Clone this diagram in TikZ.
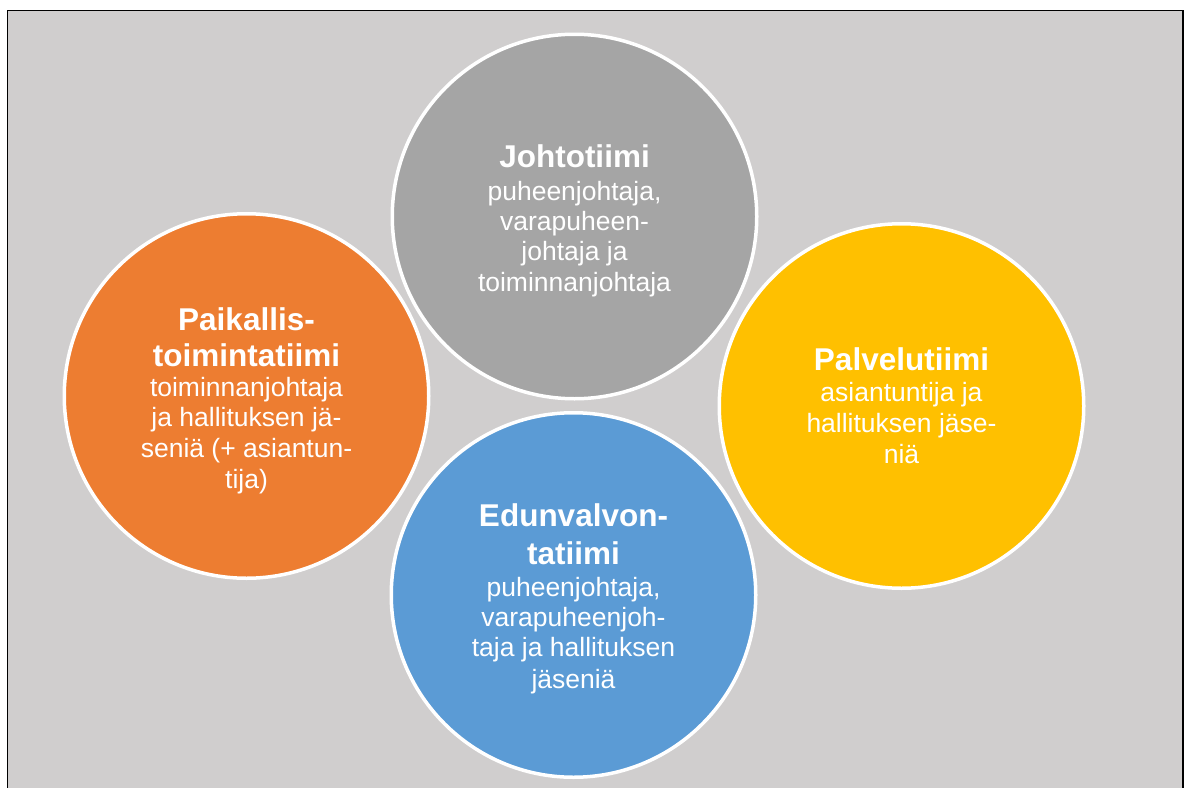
\documentclass[tikz,border=0pt]{standalone}
\usepackage{fontspec}
\setmainfont{Liberation Sans}
\usetikzlibrary{calc}
\definecolor{panel}{HTML}{D0CECE}
\definecolor{teamgray}{HTML}{A5A5A5}
\definecolor{teamorange}{HTML}{ED7D31}
\definecolor{teamyellow}{HTML}{FFC000}
\definecolor{teamblue}{HTML}{5B9BD5}
\begin{document}
\begin{tikzpicture}[x=1pt,y=-1pt,
  team/.style={circle, draw=white, line width=3.5pt, inner sep=0pt, minimum size=364.5pt},
  head/.style={anchor=base, text=white, inner sep=0pt, font=\fontsize{31.5}{36}\selectfont\bfseries},
  body/.style={anchor=base, text=white, inner sep=0pt, font=\fontsize{26.5}{30}\selectfont}]
\useasboundingbox (0,0) rectangle (1191,787);
\clip (0,0) rectangle (1191,787);
% panel
\draw[fill=panel, draw=black, line width=1.5pt] (7.5,10.5) rectangle (1183,800);

% team circles
\node[team, fill=teamgray]   (johto) at (574.5,216.5) {};
\node[team, fill=teamorange] (paik)  at (246.5,396)   {};
\node[team, fill=teamyellow] (palv)  at (901.5,406)   {};
\node[team, fill=teamblue]   (edun)  at (573.5,595)   {};

% Johtotiimi
\node[head] (johto-h1) at ($(johto)+(0,-49.5)$) {Johtotiimi};
\node[body] (johto-b1) at ($(johto)+(0,-16.5)$) {puheenjohtaja,};
\node[body] (johto-b2) at ($(johto)+(0,13.5)$)  {varapuheen-};
\node[body] (johto-b3) at ($(johto)+(0,43.5)$)  {johtaja ja};
\node[body] (johto-b4) at ($(johto)+(0,74.5)$)  {toiminnanjohtaja};

% Paikallistoimintatiimi
\node[head] (paik-h1) at ($(paik)+(0,-66)$)   {Paikallis-};
\node[head] (paik-h2) at ($(paik)+(0,-30)$)   {toimintatiimi};
\node[body] (paik-b1) at ($(paik)+(0,0.5)$)   {toiminnanjohtaja};
\node[body] (paik-b2) at ($(paik)+(0,30.5)$)  {ja hallituksen jä-};
\node[body] (paik-b3) at ($(paik)+(0,61.5)$)  {seniä (+ asiantun-};
\node[body] (paik-b4) at ($(paik)+(0,92)$)    {tija)};

% Palvelutiimi
\node[head] (palv-h1) at ($(palv)+(0,-36)$)   {Palvelutiimi};
\node[body] (palv-b1) at ($(palv)+(0,-4.5)$)  {asiantuntija ja};
\node[body] (palv-b2) at ($(palv)+(0,26)$)    {hallituksen jäse-};
\node[body] (palv-b3) at ($(palv)+(0,57)$)    {niä};

% Edunvalvontatiimi
\node[head] (edun-h1) at ($(edun)+(0,-68.5)$) {Edunvalvon-};
\node[head] (edun-h2) at ($(edun)+(0,-31)$)   {tatiimi};
\node[body] (edun-b1) at ($(edun)+(0,1.5)$)   {puheenjohtaja,};
\node[body] (edun-b2) at ($(edun)+(0,31.5)$)  {varapuheenjoh-};
\node[body] (edun-b3) at ($(edun)+(0,61.5)$)  {taja ja hallituksen};
\node[body] (edun-b4) at ($(edun)+(0,93)$)    {jäseniä};
\end{tikzpicture}
\end{document}
